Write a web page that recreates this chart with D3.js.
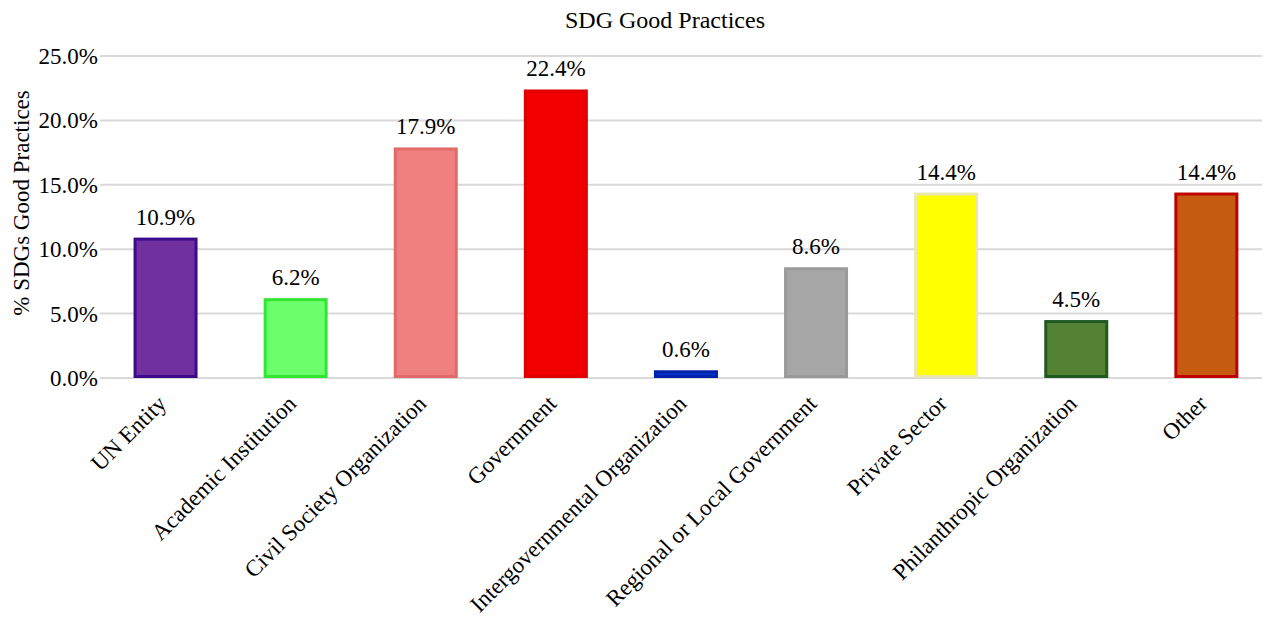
<!DOCTYPE html>
<html><head><meta charset="utf-8">
<script src="https://cdn.jsdelivr.net/npm/d3@7"></script>
<style>body{margin:0;background:#fff}</style>
</head><body>
<svg id="c" width="1266" height="618" font-family="'Liberation Serif', 'Times New Roman', serif"></svg>
<script>
const categories = ["UN Entity","Academic Institution","Civil Society Organization","Government","Intergovernmental Organization","Regional or Local Government","Private Sector","Philanthropic Organization","Other"];
const values = [10.9, 6.2, 17.9, 22.4, 0.6, 8.6, 14.4, 4.5, 14.4];
const fills = ["#7030a0","#6cff6c","#f08080","#f20000","#0033cc","#a6a6a6","#ffff00","#548235","#c55a11"];
const strokes = ["#3d0a8a","#33e633","#e06a6a","#e00000","#0022aa","#9a9a9a","#e8e8b0","#1f5a1f","#c00000"];
const yTicks = [0,5,10,15,20,25];

const svg = d3.select("#c");
const x = d3.scaleBand().domain(categories).range([100.5,1271.4]).paddingInner(0.5).paddingOuter(0.25);
const y = d3.scaleLinear().domain([0,25]).range([378,56]);
const FF = "'Liberation Serif', 'Times New Roman', serif";

svg.append("text").attr("x",665).attr("y",28).attr("text-anchor","middle")
  .attr("font-family",FF).attr("font-size",24).text("SDG Good Practices");

svg.append("g").selectAll("line").data(yTicks).join("line")
  .attr("x1",100).attr("x2",1262).attr("y1",d=>y(d)).attr("y2",d=>y(d))
  .attr("stroke","#d9d9d9").attr("stroke-width",2);

svg.append("g").selectAll("text").data(yTicks).join("text")
  .attr("x",98).attr("y",d=>y(d)+8).attr("text-anchor","end")
  .attr("font-family",FF).attr("font-size",23)
  .text(d=>d.toFixed(1)+"%");

svg.append("text").attr("transform","translate(29,203) rotate(-90)").attr("text-anchor","middle")
  .attr("font-family",FF).attr("font-size",23).text("% SDGs Good Practices");

const bw = 64;
svg.append("g").selectAll("rect").data(values).join("rect")
  .attr("x",(d,i)=>x(categories[i])+x.bandwidth()/2-bw/2+1.5).attr("width",bw-3)
  .attr("y",d=>y(d)+1.5).attr("height",d=>y(0)-y(d)-3)
  .attr("fill",(d,i)=>fills[i]).attr("stroke",(d,i)=>strokes[i]).attr("stroke-width",3);

svg.append("g").selectAll("text").data(values).join("text")
  .attr("x",(d,i)=>x(categories[i])+x.bandwidth()/2).attr("y",d=>y(d)-13)
  .attr("text-anchor","middle").attr("font-family",FF).attr("font-size",23)
  .text(d=>d.toFixed(1)+"%");

svg.append("g").selectAll("text").data(categories).join("text")
  .attr("transform",d=>`translate(${x(d)+x.bandwidth()/2+2},${405}) rotate(-45)`)
  .attr("text-anchor","end").attr("font-family",FF).attr("font-size",23).text(d=>d);
</script>
</body></html>
